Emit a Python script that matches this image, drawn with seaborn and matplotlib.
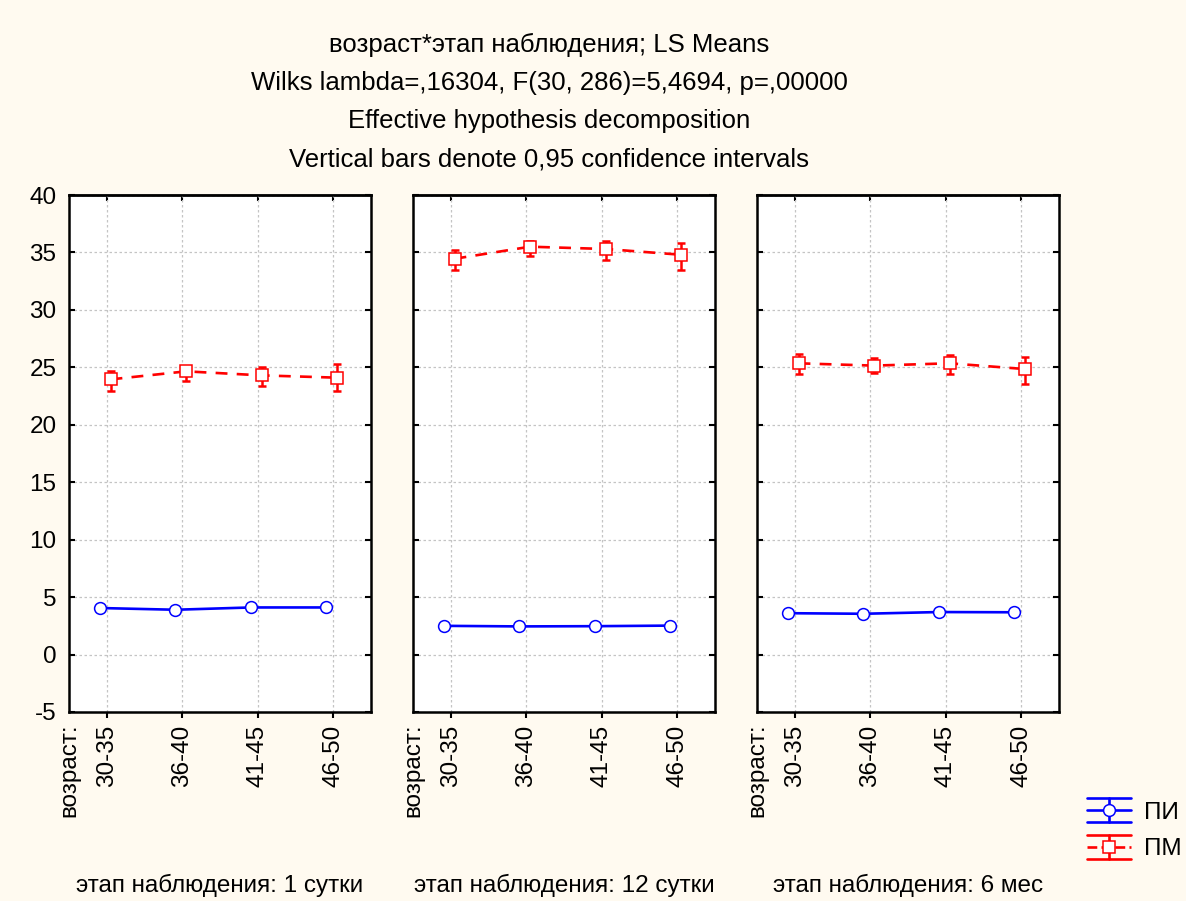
import matplotlib
matplotlib.use("Agg")
import matplotlib.pyplot as plt
from matplotlib.lines import Line2D
from matplotlib.legend_handler import HandlerBase
import seaborn as sns
import pandas as pd
import numpy as np

# ---------------- data ----------------
ages = ['30-35', '36-40', '41-45', '46-50']
stages = ['этап наблюдения: 1 сутки', 'этап наблюдения: 12 сутки', 'этап наблюдения: 6 мес']
series_names = ['ПИ', 'ПМ']

pi_mean_1 = [4.05, 3.90, 4.10, 4.10]
pi_lo_1 = [3.90, 3.75, 3.95, 3.95]
pi_hi_1 = [4.20, 4.05, 4.25, 4.25]
pi_mean_12 = [2.50, 2.45, 2.47, 2.52]
pi_lo_12 = [2.35, 2.30, 2.32, 2.37]
pi_hi_12 = [2.65, 2.60, 2.62, 2.67]
pi_mean_6 = [3.60, 3.55, 3.70, 3.68]
pi_lo_6 = [3.45, 3.40, 3.55, 3.53]
pi_hi_6 = [3.75, 3.70, 3.85, 3.83]

pm_mean_1 = [23.95, 24.65, 24.30, 24.10]
pm_lo_1 = [22.97, 23.84, 23.34, 22.94]
pm_hi_1 = [24.70, 25.12, 25.03, 25.32]
pm_mean_12 = [34.45, 35.50, 35.30, 34.80]
pm_lo_12 = [33.46, 34.71, 34.30, 33.46]
pm_hi_12 = [35.20, 36.02, 35.96, 35.84]
pm_mean_6 = [25.35, 25.15, 25.35, 24.85]
pm_lo_6 = [24.42, 24.53, 24.39, 23.58]
pm_hi_6 = [26.16, 25.81, 26.08, 25.93]

title_lines = ['возраст*этап наблюдения; LS Means',
               'Wilks lambda=,16304, F(30, 286)=5,4694, p=,00000',
               'Effective hypothesis decomposition',
               'Vertical bars denote 0,95 confidence intervals']
x_label = 'возраст:'
y_ticks = [-5, 0, 5, 10, 15, 20, 25, 30, 35, 40]

pi_means = [pi_mean_1, pi_mean_12, pi_mean_6]
pi_los = [pi_lo_1, pi_lo_12, pi_lo_6]
pi_his = [pi_hi_1, pi_hi_12, pi_hi_6]
pm_means = [pm_mean_1, pm_mean_12, pm_mean_6]
pm_los = [pm_lo_1, pm_lo_12, pm_lo_6]
pm_his = [pm_hi_1, pm_hi_12, pm_hi_6]

# ---------------- style ----------------
sns.set_theme(style="white")
plt.rcParams['font.family'] = ['Liberation Sans', 'DejaVu Sans']
plt.rcParams['axes.unicode_minus'] = False
plt.rcParams['text.color'] = 'black'
FS = 17.5
FS_T = 18.5
BG = '#FFFAF0'
BLUE = '#0000FF'
RED = '#FF0000'
MS = 8.5

fig = plt.figure(figsize=(11.86, 9.01), dpi=100, facecolor=BG)

W, H = 1186, 901
lefts = [69, 413, 757]
ax_w = 302
top_px, bot_px = 195, 712

styles = {
    'ПИ': dict(color=BLUE, marker='o', ls='-', offset=-0.09),
    'ПМ': dict(color=RED, marker='s', ls=(0, (4.5, 3.5)), offset=0.05),
}

for i, stage in enumerate(stages):
    ax = fig.add_axes([lefts[i] / W, 1 - bot_px / H, ax_w / W, (bot_px - top_px) / H])
    ax.set_facecolor('white')
    base = np.arange(len(ages))
    for name, means, los, his in [('ПИ', pi_means[i], pi_los[i], pi_his[i]),
                                  ('ПМ', pm_means[i], pm_los[i], pm_his[i])]:
        st = styles[name]
        xs = base + st['offset']
        df = pd.DataFrame({'x': xs, 'y': means})
        m = np.array(means)
        ax.errorbar(xs, m, yerr=[m - np.array(los), np.array(his) - m], fmt='none',
                    ecolor=st['color'], elinewidth=1.8, capsize=3.2, capthick=1.8, zorder=2)
        sns.lineplot(data=df, x='x', y='y', ax=ax, color=st['color'], linestyle=st['ls'],
                     linewidth=1.9, marker=st['marker'], markersize=MS,
                     markerfacecolor='white', markeredgecolor=st['color'],
                     markeredgewidth=1.1, zorder=3, legend=False)
    ax.set_xlim(-0.5, 3.5)
    ax.set_ylim(-5, 40)
    ax.set_yticks(y_ticks)
    ax.set_xticks(base)
    ax.set_xticklabels(ages, rotation=90, fontsize=FS)
    ax.set_xlabel('')
    ax.set_ylabel('')
    ax.grid(True, color='#c4c4c4', linestyle=(0, (2, 2)), linewidth=0.9)
    for sp in ax.spines.values():
        sp.set_visible(True)
        sp.set_color('black')
        sp.set_linewidth(1.8)
    ax.tick_params(axis='x', direction='out', length=4, width=1.5, colors='black',
                   pad=5, labelsize=FS, bottom=True, top=False)
    ax.tick_params(axis='y', direction='in', length=4, width=1.5, colors='black',
                   left=True, right=True, labelleft=(i == 0), labelsize=FS, pad=9)
    sec = ax.secondary_xaxis('top')
    sec.set_xticks(base)
    sec.tick_params(direction='in', length=4, width=1.5, labeltop=False, colors='black')
    sec.spines['top'].set_linewidth(1.8)
    ax.text(0.0, -0.022, x_label, transform=ax.transAxes, rotation=90,
            ha='center', va='top', fontsize=FS, color='black')
    fig.text((lefts[i] + ax_w / 2) / W, 1 - 885 / H, stage, ha='center', va='center',
             fontsize=FS, color='black')

for k, line in enumerate(title_lines):
    fig.text(549 / W, 1 - (45 + 38 * k) / H, line, ha='center', va='center',
             fontsize=FS_T, color='black')


class StatHandler(HandlerBase):
    def create_artists(self, legend, orig_handle, xdescent, ydescent, width, height,
                       fontsize, trans):
        color = orig_handle.get_color()
        marker = orig_handle.get_marker()
        ls = orig_handle.get_linestyle()
        yc = height / 2 - ydescent
        dy = height * 0.72
        x0, x1 = -xdescent, -xdescent + width
        xm = (x0 + x1) / 2
        arts = []
        arts.append(Line2D([x0, x1], [yc + dy, yc + dy], color=color, lw=1.9))
        arts.append(Line2D([x0, x1], [yc - dy, yc - dy], color=color, lw=1.9))
        mid = Line2D([x0, x1], [yc, yc], color=color, lw=1.9, linestyle=ls)
        arts.append(mid)
        arts.append(Line2D([xm, xm], [yc - dy, yc + dy], color=color, lw=1.9))
        arts.append(Line2D([xm], [yc], marker=marker, markersize=MS, markerfacecolor='white',
                           markeredgecolor=color, markeredgewidth=1.1, linestyle='none'))
        for a in arts:
            a.set_transform(trans)
        return arts


h_pi = Line2D([], [], color=BLUE, marker='o', linestyle='-')
h_pm = Line2D([], [], color=RED, marker='s', linestyle=(0, (2.5, 2.5)))
fig.legend([h_pi, h_pm], series_names, handler_map={Line2D: StatHandler()},
           loc='center left', bbox_to_anchor=(1087 / W, 1 - 831 / H), frameon=False,
           fontsize=FS, handlelength=1.8, labelspacing=0.6, handletextpad=0.55,
           borderaxespad=0, borderpad=0, labelcolor='black')

fig.savefig('out.png', dpi=100, facecolor=BG)
